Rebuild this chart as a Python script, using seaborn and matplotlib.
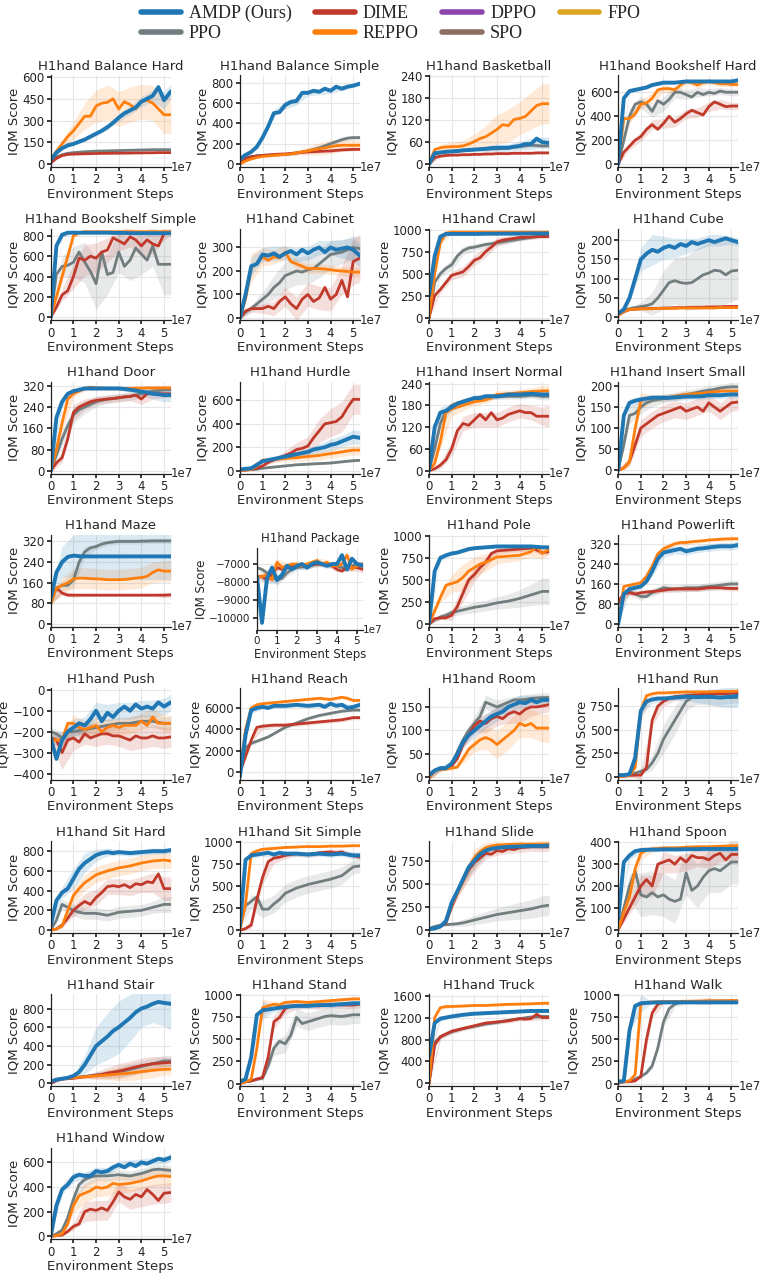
import numpy as np
import seaborn as sns
import matplotlib.pyplot as plt
from matplotlib.lines import Line2D
from matplotlib.ticker import FixedLocator, FuncFormatter

# x grid of the logged curves (environment steps) and the coarser grid for the bands
STEPS = [0, 2.5e6, 5e6, 7.5e6, 1e7, 1.25e7, 1.5e7, 1.75e7, 2e7, 2.25e7, 2.5e7,
         2.75e7, 3e7, 3.25e7, 3.5e7, 3.75e7, 4e7, 4.25e7, 4.5e7, 4.75e7, 5e7, 5.3e7]
BAND_IDX = [0, 2, 4, 6, 8, 10, 12, 14, 16, 18, 20, 21]

METHODS = ["AMDP (Ours)", "PPO", "DIME", "REPPO", "DPPO", "SPO", "FPO"]
COLORS = ["#1f77b4", "#717d7e", "#c0392b", "#ff7f0e", "#8e44ad", "#8d6e63", "#daa520"]

# ---- Balance Hard
bh_amdp = [30,80,110,130,140,155,170,190,210,230,255,285,320,350,370,390,430,450,470,530,440,500]
bh_ppo = [20,50,65,75,80,83,86,88,90,91,92,93,94,95,96,97,98,99,100,100,100,100]
bh_dime = [10,40,60,68,70,71,72,73,74,75,75,76,76,77,77,78,78,79,79,80,80,80]
bh_reppo = [30,90,140,190,230,280,330,330,400,420,425,450,380,430,410,380,430,440,420,380,340,340]
bh_sd = [[5,10,12,15,15,20,25,30,35,40,60,50], [2,4,5,5,5,5,5,5,5,5,5,5],
         [2,4,5,5,5,5,5,5,5,5,5,5], [5,30,60,90,110,120,120,120,120,120,130,130]]
# ---- Balance Simple
bs_amdp = [50,90,120,170,260,370,500,510,580,610,620,700,700,720,710,740,720,760,740,760,770,790]
bs_ppo = [20,60,75,80,85,88,90,92,95,100,110,120,130,145,160,180,200,220,240,255,260,260]
bs_dime = [0,50,70,80,85,90,95,98,100,105,110,115,120,122,125,128,130,135,140,142,145,145]
bs_reppo = [0,30,50,65,75,80,85,90,95,100,110,120,130,140,150,160,170,180,185,185,185,185]
bs_sd = [[10,15,20,30,40,40,30,30,25,20,20,20], [3,5,5,5,8,10,15,20,25,25,20,20],
         [3,5,5,5,8,10,15,15,15,15,15,15], [3,5,8,10,15,25,40,60,70,60,50,50]]
# ---- Basketball
bb_amdp = [0,30,32,34,35,36,38,39,40,41,42,44,45,45,45,48,50,55,55,70,60,58]
bb_ppo = [0,28,32,34,35,36,37,38,40,41,41,42,42,43,44,46,48,50,52,51,50,50]
bb_dime = [0,18,22,24,25,25,26,26,27,27,28,28,29,29,29,30,30,30,30,31,31,31]
bb_reppo = [0,40,45,47,48,48,50,55,62,70,75,85,95,108,105,122,125,130,145,160,165,165]
bb_sd = [[3,4,5,6,6,8,10,10,12,15,15,15], [3,3,3,3,3,4,4,4,4,5,5,5],
         [2,3,3,3,3,3,3,3,3,3,3,3], [3,10,12,15,20,30,40,45,45,50,55,55]]
# ---- Bookshelf Hard
bkh_amdp = [0,550,610,620,630,640,660,670,680,680,680,685,690,690,690,690,690,690,690,690,690,700]
bkh_ppo = [0,200,400,500,520,500,440,530,500,540,600,600,580,560,600,580,600,590,610,600,600,600]
bkh_dime = [0,100,150,200,230,290,330,290,340,400,350,380,420,450,430,410,480,520,500,480,485,485]
bkh_reppo = [0,380,380,420,500,510,550,620,630,630,620,660,690,680,660,680,690,680,670,670,665,665]
bkh_sd = [[5,20,15,15,15,10,10,10,10,10,10,10], [5,60,50,50,60,50,40,40,30,30,30,30],
          [5,30,40,40,40,40,40,40,40,40,30,30], [5,30,40,40,30,30,25,25,25,20,20,20]]
# ---- Bookshelf Simple
bks_amdp = [0,700,810,830,830,830,830,830,830,830,830,828,828,828,825,825,825,825,825,825,825,825]
bks_ppo = [0,420,500,510,540,640,540,450,330,640,420,440,640,500,560,680,620,560,700,520,520,520]
bks_dime = [0,100,220,260,400,580,560,600,580,640,660,780,750,720,790,760,700,760,720,700,820,840]
bks_reppo = [0,200,400,600,800,830,840,840,840,840,840,840,840,840,840,840,840,840,840,840,840,840]
bks_sd = [[5,20,10,10,10,10,10,10,10,10,10,10], [5,100,150,200,250,200,200,200,200,200,300,300],
          [5,60,120,150,150,120,100,100,100,100,60,40], [5,60,20,10,10,10,10,10,10,10,10,10]]
# ---- Cabinet
cab_amdp = [0,100,220,230,270,265,275,260,275,285,270,290,275,290,300,280,300,290,295,300,290,265]
cab_ppo = [0,25,40,60,80,100,130,150,180,190,200,195,205,210,230,250,270,275,280,290,300,295]
cab_dime = [0,30,40,40,40,50,40,70,90,60,40,80,100,70,85,130,80,100,160,90,240,255]
cab_reppo = [0,80,215,230,260,245,260,255,280,240,230,220,210,210,210,208,205,202,200,198,195,195]
cab_sd = [[5,40,30,30,30,30,30,30,30,40,50,50], [5,15,30,50,60,60,60,60,60,50,50,50],
          [5,15,20,30,40,50,50,50,50,60,100,100], [5,60,40,30,30,20,20,20,20,20,20,20]]
# ---- Crawl
crw_amdp = [250,700,920,950,950,950,950,950,950,950,952,952,952,953,953,953,954,954,955,955,955,955]
crw_ppo = [0,400,500,560,600,700,760,790,800,815,830,840,850,860,870,880,890,900,910,920,930,930]
crw_dime = [0,250,320,400,480,500,520,580,650,680,750,800,860,880,890,900,910,912,915,918,920,920]
crw_reppo = [0,500,850,960,970,970,970,970,970,970,970,970,970,970,970,970,970,970,970,970,970,970]
crw_sd = [[20,20,10,10,10,10,10,10,10,10,10,10], [5,40,60,50,40,30,30,30,20,20,20,20],
          [5,40,50,60,60,60,50,40,30,30,20,20], [5,30,10,10,10,10,10,10,10,10,10,10]]
# ---- Cube
cub_amdp = [10,20,50,100,150,165,175,170,180,185,180,190,185,195,190,195,200,195,200,205,200,195]
cub_ppo = [10,18,22,25,28,30,35,50,70,90,95,90,88,90,100,110,115,122,120,110,120,122]
cub_dime = [5,15,20,21,22,22,23,23,24,24,25,25,25,26,26,26,27,27,27,28,28,28]
cub_reppo = [5,15,20,21,22,22,22,23,23,23,23,24,24,24,24,24,24,24,25,25,25,25]
cub_sd = [[3,10,30,40,30,25,20,15,15,15,10,10], [3,5,10,30,50,60,70,80,80,90,80,75],
          [2,2,2,2,2,2,2,2,2,2,2,2], [2,2,2,2,2,2,2,2,2,2,2,2]]
# ---- Door
dor_amdp = [0,200,260,290,300,305,310,310,310,310,310,310,310,308,305,302,298,295,290,288,285,285]
dor_ppo = [0,60,120,170,210,230,240,250,260,265,270,272,275,278,280,285,290,295,300,302,305,305]
dor_dime = [0,30,50,120,220,240,250,260,265,268,270,272,275,278,280,285,270,290,290,290,290,290]
dor_reppo = [0,80,180,270,290,300,310,315,312,312,310,310,310,310,310,311,311,312,312,312,312,312]
dor_sd = [[5,20,10,8,8,8,8,10,15,20,25,25], [5,30,30,25,20,15,15,15,15,10,10,10],
          [5,20,30,20,15,15,15,15,20,20,15,15], [5,30,15,8,8,8,8,8,8,8,8,8]]
# ---- Hurdle
hur_amdp = [10,15,20,50,80,90,100,110,120,130,140,150,160,180,190,200,220,230,250,270,290,280]
hur_ppo = [5,6,8,12,20,25,30,35,40,45,50,52,55,58,60,62,65,70,75,80,85,88]
hur_dime = [0,5,10,20,40,70,90,110,130,150,180,190,210,280,340,400,410,420,460,540,610,610]
hur_reppo = [0,5,10,40,90,90,95,100,105,108,110,115,120,125,130,138,145,152,160,168,175,175]
hur_sd = [[5,5,10,15,20,25,30,40,50,50,60,60], [3,3,5,5,8,10,10,10,10,10,10,10],
          [5,5,10,20,40,60,80,100,120,130,130,130], [5,5,15,20,25,30,35,40,40,40,40,40]]
# ---- Insert Normal
inn_amdp = [0,120,160,165,175,185,190,195,200,200,205,205,205,207,210,210,210,211,212,211,210,210]
inn_ppo = [0,60,130,165,180,185,190,195,200,202,205,205,205,205,205,205,205,206,208,207,205,205]
inn_dime = [0,5,15,30,60,110,130,125,140,155,140,160,140,145,155,160,165,160,160,150,150,150]
inn_reppo = [0,20,80,160,170,175,180,185,190,192,195,200,210,211,212,213,215,216,218,219,220,220]
inn_sd = [[3,15,10,10,8,8,8,8,10,10,10,10], [3,20,10,8,8,8,8,8,8,8,10,10],
          [3,10,20,20,20,20,20,20,20,20,25,30], [3,20,20,15,10,10,10,10,10,10,15,15]]
# ---- Insert Small
ins_amdp = [0,130,160,165,168,170,172,172,172,172,173,174,175,175,175,176,178,178,178,179,180,180]
ins_ppo = [0,60,130,135,150,160,165,168,170,172,175,178,180,182,185,188,190,192,195,197,198,198]
ins_dime = [0,5,20,60,100,110,120,130,135,140,145,150,140,145,150,140,160,150,140,150,160,162]
ins_reppo = [0,5,20,100,165,170,170,171,172,173,175,178,180,181,182,183,185,186,188,188,188,188]
ins_sd = [[3,10,8,8,8,8,8,8,8,8,8,8], [3,20,15,15,10,10,10,10,10,10,10,10],
          [3,10,20,20,20,20,20,20,20,20,20,20], [3,10,20,8,8,8,8,8,8,8,8,8]]
# ---- Maze
maz_amdp = [100,200,240,260,265,263,262,262,262,262,262,262,262,262,262,262,262,262,262,262,262,262]
maz_ppo = [80,140,150,150,170,240,280,295,300,310,315,318,320,320,320,320,321,321,322,322,322,322]
maz_dime = [90,140,120,112,112,112,112,112,112,112,112,112,112,112,112,112,112,112,112,112,112,113]
maz_reppo = [80,140,150,160,175,178,178,176,175,174,172,172,172,173,175,178,180,185,200,210,205,205]
maz_sd = [[20,60,80,90,90,90,90,90,90,90,90,90], [10,20,30,20,10,10,10,10,10,10,10,10],
          [5,10,8,5,5,5,5,5,5,5,10,10], [10,30,40,40,40,40,40,40,40,40,40,40]]
# ---- Package
pkg_amdp = [-7700,-10300,-7800,-7200,-7900,-7600,-7100,-7300,-7100,-7000,-7200,-7000,
            -6900,-7000,-7100,-7000,-7000,-6500,-7300,-6700,-7000,-7100]
pkg_ppo = [-7200,-7300,-7500,-7700,-7900,-7800,-7500,-7300,-7200,-7150,-7100,-7050,
           -7000,-7000,-7000,-7050,-7100,-7200,-7200,-7100,-7000,-7000]
pkg_dime = [-7700,-7700,-7900,-7600,-7200,-7300,-7200,-7150,-7100,-7100,-7100,-7050,
            -7000,-7000,-7000,-7100,-7300,-7400,-7200,-7200,-7200,-7300]
pkg_reppo = [-7700,-7700,-7600,-7900,-6900,-7200,-7100,-7000,-7000,-7100,-7000,-6900,
             -6800,-7000,-6900,-7100,-7100,-7000,-6500,-7300,-7100,-7100]
pkg_sd = [[100,300,200,200,150,150,150,150,150,150,150,150], [100,200,300,200,150,150,150,150,150,150,150,150],
          [100,200,200,150,150,150,150,150,150,200,200,200], [200,200,200,200,150,150,150,150,150,150,150,150]]
# ---- Pole
pol_amdp = [0,600,750,780,800,810,830,850,860,865,870,875,880,880,880,880,880,880,880,875,870,870]
pol_ppo = [0,50,80,100,130,145,160,175,190,200,210,225,240,250,260,275,290,310,330,350,370,370]
pol_dime = [0,60,70,70,100,200,350,500,560,640,700,800,830,835,840,845,850,855,860,840,810,820]
pol_reppo = [0,150,300,440,460,480,530,600,640,680,700,730,760,765,770,775,780,800,820,880,800,850]
pol_sd = [[10,30,20,20,15,15,15,15,15,15,20,20], [10,30,40,50,60,60,70,80,100,120,150,150],
          [10,20,60,100,80,60,40,30,30,30,30,30], [10,60,100,150,120,100,80,70,60,60,60,60]]
# ---- Powerlift
pwl_amdp = [0,120,140,145,150,170,210,260,285,290,295,300,290,295,300,302,305,308,310,310,310,315]
pwl_ppo = [80,120,130,120,110,110,125,135,145,142,140,142,145,145,145,148,150,152,155,158,160,160]
pwl_dime = [90,120,125,120,125,128,130,132,135,138,140,140,140,140,140,142,145,145,145,143,142,142]
pwl_reppo = [0,150,155,160,165,190,230,280,300,310,320,325,325,328,330,332,335,336,338,339,340,340]
pwl_sd = [[5,10,10,20,20,15,15,15,15,15,15,15], [10,15,15,15,15,15,15,15,15,15,15,15],
          [10,10,10,10,10,10,10,10,10,10,10,10], [5,8,10,20,15,10,10,8,8,8,8,8]]
# ---- Push
psh_amdp = [-230,-330,-240,-200,-180,-160,-170,-140,-100,-150,-110,-130,-100,-80,-100,-70,-90,-80,-90,-60,-80,-60]
psh_ppo = [-200,-210,-230,-200,-200,-195,-190,-185,-180,-175,-170,-165,-160,-160,-160,-155,-150,-150,-150,-155,-160,-160]
psh_dime = [-230,-240,-300,-240,-230,-250,-210,-230,-220,-210,-210,-220,-220,-230,-240,-220,-230,-230,-220,-230,-230,-225]
psh_reppo = [-240,-240,-240,-160,-160,-180,-190,-180,-170,-200,-180,-170,-180,-170,-170,-170,-150,-170,-130,-160,-160,-160]
psh_sd = [[20,40,40,40,40,40,40,40,40,40,40,40], [20,30,30,30,30,30,30,30,30,30,30,30],
          [20,80,60,50,50,50,50,50,50,50,50,50], [20,30,40,40,40,40,40,40,40,40,40,40]]
# ---- Reach
rch_amdp = [-400,3500,5800,6000,6100,6000,6200,6200,6200,6250,6300,6250,6200,6250,6300,6100,6400,6200,6300,6000,6100,6300]
rch_ppo = [0,2300,2700,2900,3100,3300,3600,3900,4200,4400,4600,4800,5000,5150,5300,5400,5500,5600,5700,5750,5800,5800]
rch_dime = [0,1500,3000,4200,4300,4350,4400,4400,4400,4450,4500,4550,4600,4650,4700,4750,4800,4850,4900,5000,5100,5100]
rch_reppo = [0,4000,6000,6300,6400,6450,6500,6550,6600,6650,6700,6750,6800,6850,6900,6850,6800,6900,7000,6900,6700,6700]
rch_sd = [[50,300,200,200,200,200,200,200,200,200,200,200], [50,200,150,150,150,150,150,150,150,150,150,150],
          [50,300,300,200,200,200,200,200,200,200,200,200], [50,300,150,150,150,150,150,150,150,150,150,150]]
# ---- Room
rom_amdp = [5,15,20,20,30,50,75,90,100,110,120,130,135,140,150,155,160,158,165,160,165,165]
rom_ppo = [0,15,18,18,25,55,80,100,115,130,160,155,150,155,160,165,165,166,168,169,170,170]
rom_dime = [0,15,18,20,25,40,70,90,110,120,115,125,130,125,135,140,135,145,150,150,152,155]
rom_reppo = [0,15,18,18,20,22,40,60,70,80,85,80,70,80,90,100,115,110,115,105,105,105]
rom_sd = [[5,5,5,10,15,15,15,15,15,10,10,10], [5,5,5,10,15,15,15,10,10,10,10,10],
          [5,5,5,10,15,20,20,20,20,20,15,15], [5,5,5,10,15,25,30,30,30,30,30,30]]
# ---- Run
run_amdp = [20,20,30,200,700,800,820,830,830,835,840,845,850,848,845,848,850,845,840,845,850,860]
run_ppo = [20,20,30,40,60,80,150,250,400,500,600,700,800,840,850,845,840,840,840,840,840,840]
run_dime = [0,10,15,20,20,100,600,750,800,830,850,855,860,865,870,875,880,880,880,882,885,890]
run_reppo = [0,10,15,100,700,860,880,890,890,892,895,898,900,900,900,900,900,902,905,905,905,910]
run_sd = [[5,10,50,40,30,30,40,60,80,100,120,120], [5,10,30,80,150,150,100,80,80,80,60,60],
          [5,10,50,60,50,40,30,30,30,30,30,30], [5,10,100,20,15,15,15,15,15,15,15,15]]
# ---- Sit Hard
sih_amdp = [50,300,380,420,520,620,680,720,760,780,790,780,790,785,780,785,790,795,800,800,800,810]
sih_ppo = [0,100,260,230,200,180,170,170,170,160,150,165,180,185,190,195,200,215,230,245,260,260]
sih_dime = [0,10,50,120,200,250,290,260,330,380,440,450,440,460,430,470,460,490,480,570,420,420]
sih_reppo = [0,10,40,200,350,420,480,520,560,580,600,615,630,640,650,665,680,690,700,705,710,700]
sih_sd = [[20,60,100,100,60,40,30,30,30,30,30,30], [5,50,60,60,60,60,60,60,60,60,80,80],
          [5,30,60,80,80,80,80,80,80,100,120,120], [5,20,80,80,80,80,80,80,80,80,80,80]]
# ---- Sit Simple
sis_amdp = [50,800,850,860,870,880,860,880,870,870,870,865,860,865,870,865,860,865,870,860,850,850]
sis_ppo = [50,280,330,380,240,240,300,350,420,450,480,500,520,535,550,565,580,600,620,670,720,730]
sis_dime = [0,20,60,350,600,780,820,830,850,860,870,865,860,870,880,885,890,880,890,860,850,830]
sis_reppo = [0,300,870,900,920,925,930,935,940,942,945,948,950,950,950,952,955,955,955,958,960,960]
sis_sd = [[20,30,30,30,30,30,30,30,30,30,40,40], [20,80,100,100,100,100,100,100,100,100,80,80],
          [5,40,80,60,40,30,30,30,30,30,30,30], [5,50,20,15,10,10,10,10,10,10,10,10]]
# ---- Slide
sld_amdp = [10,20,40,100,300,420,550,680,750,820,860,880,890,895,900,902,905,908,910,910,910,915]
sld_ppo = [20,40,55,60,65,70,80,95,110,125,140,155,170,180,190,200,210,220,230,245,260,270]
sld_dime = [10,20,40,80,250,400,530,650,730,780,830,820,860,850,880,870,890,895,900,900,900,900]
sld_reppo = [10,20,40,100,280,400,530,680,780,850,890,910,920,922,925,928,930,930,930,930,930,930]
sld_sd = [[5,10,20,60,80,60,40,40,30,30,30,30], [5,10,20,40,50,60,70,80,90,100,110,110],
          [5,10,20,80,100,60,50,50,50,50,50,50], [5,10,20,80,100,60,40,30,30,30,40,40]]
# ---- Spoon
spn_amdp = [50,310,340,360,365,366,367,367,368,368,368,368,369,369,369,370,370,370,370,370,370,370]
spn_ppo = [0,100,200,270,160,150,170,150,160,140,130,140,260,180,200,240,270,280,270,290,310,310]
spn_dime = [0,50,100,150,200,230,200,300,310,320,300,330,310,340,330,330,320,340,350,320,345,345]
spn_reppo = [0,80,150,280,350,365,370,372,375,375,375,376,378,379,380,380,380,381,382,383,385,385]
spn_sd = [[10,20,10,10,10,10,10,10,10,10,15,15], [5,60,100,100,100,100,100,100,100,100,100,100],
          [5,30,50,50,50,40,40,40,40,40,30,30], [5,40,30,15,10,10,10,10,10,10,10,10]]
# ---- Stair
str_amdp = [20,40,50,60,80,120,200,300,400,450,500,560,600,650,700,760,800,820,850,870,860,850]
str_ppo = [20,40,50,55,60,68,75,82,90,95,100,110,120,135,150,165,180,195,210,225,240,240]
str_dime = [0,30,45,50,55,62,70,78,85,95,110,120,130,145,160,175,190,200,210,215,220,225]
str_reppo = [20,40,50,55,60,65,70,75,80,85,90,95,100,105,110,118,125,132,140,145,150,150]
str_sd = [[10,10,20,100,200,250,280,250,200,200,250,280], [10,10,10,15,30,40,50,60,60,60,60,60],
          [10,10,10,20,40,60,80,80,80,80,60,60], [10,10,10,15,30,50,70,80,80,80,60,60]]
# ---- Stand
std_amdp = [20,50,300,780,830,840,850,860,870,875,880,880,880,885,890,890,890,895,900,905,910,910]
std_ppo = [10,20,30,50,60,200,400,480,450,550,750,680,700,720,740,760,770,765,760,770,780,780]
std_dime = [0,20,30,50,70,300,700,750,850,880,880,885,890,885,880,890,900,895,890,890,890,900]
std_reppo = [0,20,50,400,860,880,900,890,920,925,930,925,920,925,930,935,940,945,950,955,960,960]
std_sd = [[5,10,100,40,30,30,30,30,30,30,30,30], [5,10,20,80,100,100,100,100,100,100,100,100],
          [5,10,20,80,60,40,40,40,40,40,40,40], [5,10,100,30,20,20,20,20,20,20,20,20]]
# ---- Truck
trk_amdp = [500,1100,1180,1200,1220,1235,1250,1260,1270,1275,1280,1285,1290,1295,1300,1305,1310,1315,1320,1320,1320,1320]
trk_ppo = [0,750,850,900,940,970,1000,1020,1040,1060,1080,1095,1110,1130,1150,1165,1180,1195,1210,1215,1220,1220]
trk_dime = [0,700,850,900,950,975,1000,1025,1050,1075,1100,1110,1120,1130,1140,1160,1180,1170,1180,1260,1200,1200]
trk_reppo = [0,1200,1380,1400,1400,1405,1410,1415,1420,1420,1420,1425,1430,1435,1440,1442,1445,1448,1450,1455,1460,1460]
trk_sd = [[30,40,30,30,30,30,30,30,30,30,30,30], [10,40,30,30,30,30,30,30,30,30,30,30],
          [10,50,50,40,40,40,40,40,40,40,40,40], [10,30,20,20,20,20,20,20,20,20,30,30]]
# ---- Walk
wlk_amdp = [20,30,600,880,910,915,918,920,920,920,920,920,920,920,920,920,920,920,920,920,920,920]
wlk_ppo = [10,20,30,50,80,120,200,400,700,850,900,920,925,926,927,928,930,931,932,933,935,935]
wlk_dime = [10,20,20,30,80,500,800,900,920,925,930,930,930,930,930,932,935,935,935,935,935,935]
wlk_reppo = [10,20,30,100,900,920,925,928,930,930,930,932,933,934,935,936,937,938,938,939,940,940]
wlk_sd = [[5,10,100,10,10,10,10,10,10,10,10,10], [5,10,20,40,60,30,20,20,20,20,20,20],
          [5,10,20,60,20,20,20,30,40,20,20,20], [5,10,20,10,10,10,10,10,10,10,10,10]]
# ---- Window
win_amdp = [0,250,380,420,480,500,490,490,530,520,530,560,580,560,590,570,600,590,610,630,620,640]
win_ppo = [0,20,50,150,300,420,460,480,490,490,490,495,500,495,490,500,510,525,540,545,540,535]
win_dime = [0,5,10,40,80,100,200,220,210,230,210,280,360,320,300,340,320,380,340,290,350,355]
win_reppo = [0,5,20,100,250,330,350,370,400,390,400,430,420,425,430,440,450,465,480,490,490,485]
win_sd = [[5,40,40,30,30,30,30,30,30,30,30,30], [5,20,60,60,40,40,40,40,40,40,40,40],
          [5,10,30,80,80,80,80,80,80,80,80,80], [5,10,60,80,80,70,70,70,70,70,70,70]]

TITLES = ["H1hand Balance Hard", "H1hand Balance Simple", "H1hand Basketball", "H1hand Bookshelf Hard",
          "H1hand Bookshelf Simple", "H1hand Cabinet", "H1hand Crawl", "H1hand Cube",
          "H1hand Door", "H1hand Hurdle", "H1hand Insert Normal", "H1hand Insert Small",
          "H1hand Maze", "H1hand Package", "H1hand Pole", "H1hand Powerlift",
          "H1hand Push", "H1hand Reach", "H1hand Room", "H1hand Run",
          "H1hand Sit Hard", "H1hand Sit Simple", "H1hand Slide", "H1hand Spoon",
          "H1hand Stair", "H1hand Stand", "H1hand Truck", "H1hand Walk", "H1hand Window"]

YTICKS = [[0,150,300,450,600], [0,200,400,600,800], [0,60,120,180,240], [0,200,400,600],
          [0,200,400,600,800], [0,100,200,300], [0,250,500,750,1000], [0,50,100,150,200],
          [0,80,160,240,320], [0,200,400,600], [0,60,120,180,240], [0,50,100,150,200],
          [0,80,160,240,320], [-10000,-9000,-8000,-7000], [0,250,500,750,1000], [0,80,160,240,320],
          [-400,-300,-200,-100,0], [0,2000,4000,6000], [0,50,100,150], [0,250,500,750],
          [0,200,400,600,800], [0,250,500,750,1000], [0,250,500,750], [0,100,200,300,400],
          [0,200,400,600,800], [0,250,500,750,1000], [0,400,800,1200,1600], [0,250,500,750,1000],
          [0,200,400,600]]
YLIMS = [(-20,610), (-30,870), (-8,242), (-25,740), (-30,870), (-10,380), (-30,1010), (-8,230),
         (-10,335), (-25,760), (-8,245), (-8,210), (-10,345), (-10700,-6100), (-30,1010), (-10,355),
         (-430,8), (-700,7850), (-5,190), (-30,940), (-30,900), (-30,1010), (-30,960), (-15,405),
         (-30,950), (-30,1010), (-50,1620), (-30,1010), (-25,720)]

# table of (AMDP, PPO, DIME, REPPO) curves per task, built from the arrays above
CURVES = [
    (bh_amdp, bh_ppo, bh_dime, bh_reppo, bh_sd), (bs_amdp, bs_ppo, bs_dime, bs_reppo, bs_sd),
    (bb_amdp, bb_ppo, bb_dime, bb_reppo, bb_sd), (bkh_amdp, bkh_ppo, bkh_dime, bkh_reppo, bkh_sd),
    (bks_amdp, bks_ppo, bks_dime, bks_reppo, bks_sd), (cab_amdp, cab_ppo, cab_dime, cab_reppo, cab_sd),
    (crw_amdp, crw_ppo, crw_dime, crw_reppo, crw_sd), (cub_amdp, cub_ppo, cub_dime, cub_reppo, cub_sd),
    (dor_amdp, dor_ppo, dor_dime, dor_reppo, dor_sd), (hur_amdp, hur_ppo, hur_dime, hur_reppo, hur_sd),
    (inn_amdp, inn_ppo, inn_dime, inn_reppo, inn_sd), (ins_amdp, ins_ppo, ins_dime, ins_reppo, ins_sd),
    (maz_amdp, maz_ppo, maz_dime, maz_reppo, maz_sd), (pkg_amdp, pkg_ppo, pkg_dime, pkg_reppo, pkg_sd),
    (pol_amdp, pol_ppo, pol_dime, pol_reppo, pol_sd), (pwl_amdp, pwl_ppo, pwl_dime, pwl_reppo, pwl_sd),
    (psh_amdp, psh_ppo, psh_dime, psh_reppo, psh_sd), (rch_amdp, rch_ppo, rch_dime, rch_reppo, rch_sd),
    (rom_amdp, rom_ppo, rom_dime, rom_reppo, rom_sd), (run_amdp, run_ppo, run_dime, run_reppo, run_sd),
    (sih_amdp, sih_ppo, sih_dime, sih_reppo, sih_sd), (sis_amdp, sis_ppo, sis_dime, sis_reppo, sis_sd),
    (sld_amdp, sld_ppo, sld_dime, sld_reppo, sld_sd), (spn_amdp, spn_ppo, spn_dime, spn_reppo, spn_sd),
    (str_amdp, str_ppo, str_dime, str_reppo, str_sd), (std_amdp, std_ppo, std_dime, std_reppo, std_sd),
    (trk_amdp, trk_ppo, trk_dime, trk_reppo, trk_sd), (wlk_amdp, wlk_ppo, wlk_dime, wlk_reppo, wlk_sd),
    (win_amdp, win_ppo, win_dime, win_reppo, win_sd),
]

sns.set_theme(style="whitegrid")
plt.rcParams.update({
    "font.family": ["DejaVu Sans"],
    "axes.edgecolor": "#222222",
    "axes.linewidth": 0.9,
    "grid.color": "#e6e6e6",
    "grid.linewidth": 0.8,
    "xtick.bottom": True, "ytick.left": True,
    "xtick.major.size": 3, "ytick.major.size": 3,
    "xtick.color": "#222222", "ytick.color": "#222222",
})

fig, axes = plt.subplots(8, 4, figsize=(7.69, 12.79), dpi=100)
fig.subplots_adjust(left=0.066, right=0.96, top=0.941, bottom=0.031, wspace=0.575, hspace=0.67)

order = [1, 2, 3, 0]  # PPO, DIME, REPPO first, AMDP on top
for k, ax in enumerate(axes.flat):
    if k >= len(TITLES):
        ax.remove()
        continue
    small = TITLES[k] == "H1hand Package"
    fs_t, fs_l, fs_k = (8.5, 8.5, 7.5) if small else (9.5, 9.5, 8.5)
    curves = CURVES[k]
    sd = curves[4]
    xb = [STEPS[i] for i in BAND_IDX]
    for m in order:
        y = np.array(curves[m], dtype=float)
        yb = y[BAND_IDX]
        s = np.array(sd[m], dtype=float)
        ax.fill_between(xb, yb - s, yb + s, color=COLORS[m], alpha=0.16, lw=0)
    for m in order:
        sns.lineplot(x=STEPS, y=curves[m], ax=ax, color=COLORS[m],
                     lw=2.8 if m == 0 else 2.0, errorbar=None, legend=False)
    ax.set_xlim(0, 5.3e7)
    ax.set_ylim(*YLIMS[k])
    ax.xaxis.set_major_locator(FixedLocator([0, 1e7, 2e7, 3e7, 4e7, 5e7]))
    ax.xaxis.set_major_formatter(FuncFormatter(lambda v, p: f"{v / 1e7:.0f}"))
    ax.set_yticks(YTICKS[k])
    ax.tick_params(labelsize=fs_k, pad=1.5)
    ax.set_title(TITLES[k], fontsize=fs_t, pad=4)
    ax.set_xlabel("Environment Steps", fontsize=fs_l, labelpad=1)
    ax.set_ylabel("IQM Score", fontsize=fs_l, labelpad=1)
    ax.text(1.0, 0.0, "1e7", transform=ax.transAxes, ha="left", va="center", fontsize=fs_k)
    sns.despine(ax=ax)
    if small:
        ax.set_position([257 / 769, 1 - 630 / 1279, 106 / 769, 82 / 1279])

handles = [Line2D([0], [0], color=c, lw=4) for c in COLORS]
fig.legend(handles, METHODS, loc="upper center", bbox_to_anchor=(0.508, 1.006), ncol=4,
           frameon=False, handlelength=2.2, columnspacing=1.3, handletextpad=0.45,
           labelspacing=0.15, borderpad=0.2, prop={"family": "Liberation Serif", "size": 13})

fig.savefig("out.png", dpi=100)
